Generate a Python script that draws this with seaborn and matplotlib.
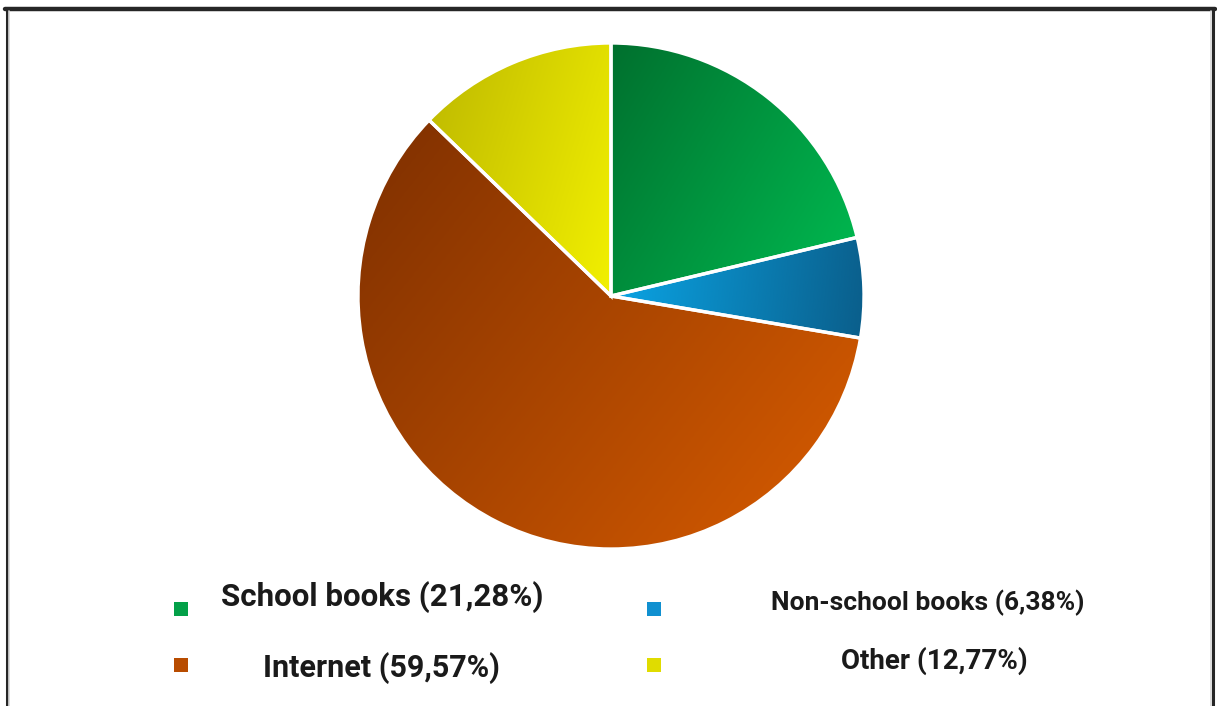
import numpy as np
import matplotlib
matplotlib.use("Agg")
import matplotlib.pyplot as plt
import seaborn as sns
from matplotlib.colors import LinearSegmentedColormap
from matplotlib.patches import Rectangle
from matplotlib.lines import Line2D

sns.set_theme(style="white")
plt.rcParams['font.family'] = ['Roboto', 'DejaVu Sans']

# Sources of information
categories = ["School books", "Non-school books", "Internet", "Other"]
shares = [21.28, 6.38, 59.57, 12.77]
labels = ["School books (21,28%)", "Non-school books (6,38%)",
          "Internet (59,57%)", "Other (12,77%)"]

# gradient end colours for each slice and gradient direction
grad_colors = [("#00702e", "#00b54e"),
               ("#0aa4e4", "#0a5f8c"),
               ("#853300", "#cc5600"),
               ("#c2bd00", "#f2f000")]
grad_dirs = [(1.0, -0.6), (1.0, -0.1), (1.0, -0.8), (1.0, -0.3)]
legend_colors = ["#03a048", "#1090d0", "#b84c00", "#e0dc00"]

W, H = 1217, 706
fig = plt.figure(figsize=(W / 100, H / 100), dpi=100)
fig.patch.set_facecolor("white")

cx, cy, r = 611, 296, 253
ax = fig.add_axes([(cx - r) / W, (H - cy - r) / H, 2 * r / W, 2 * r / H])
wedges, _ = ax.pie(shares, startangle=90, counterclock=False, radius=1.0,
                   colors=[c[1] for c in grad_colors],
                   wedgeprops=dict(edgecolor="white", linewidth=2.4))
ax.set_xlim(-1, 1)
ax.set_ylim(-1, 1)
ax.set_aspect("equal")
ax.axis("off")

# linear gradient fill clipped to each wedge
n = 400
xs = np.linspace(-1, 1, n)
X, Y = np.meshgrid(xs, xs[::-1])
for w, (c0, c1), (dx, dy) in zip(wedges, grad_colors, grad_dirs):
    verts = w.get_path().vertices
    proj_v = verts[:, 0] * dx + verts[:, 1] * dy
    P = X * dx + Y * dy
    T = np.clip((P - proj_v.min()) / (proj_v.max() - proj_v.min()), 0, 1)
    cmap = LinearSegmentedColormap.from_list("g", [c0, c1])
    im = ax.imshow(T, cmap=cmap, extent=[-1, 1, -1, 1], vmin=0, vmax=1,
                   interpolation="bilinear", zorder=w.get_zorder() + 0.1)
    im.set_clip_path(w)
    w.set_facecolor("none")
    w.set_zorder(w.get_zorder() + 0.2)

# legend: square markers and labels
marker_pos = [(181, 609), (654, 609), (181, 665), (654, 665)]
text_pos = [(382, 597, 22.5), (928, 603, 19), (381, 668, 22), (934, 661, 20)]
for (mx, my), col in zip(marker_pos, legend_colors):
    fig.add_artist(Rectangle(((mx - 7) / W, (H - my - 7) / H), 14 / W, 14 / H,
                             transform=fig.transFigure, facecolor=col,
                             edgecolor="none"))
for lab, (tx, ty, fs) in zip(labels, text_pos):
    fig.text(tx / W, (H - ty) / H, lab, ha="center", va="center",
             fontsize=fs, fontweight="bold", color="#1a1a1a")

# frame around the chart
frame = "#262626"
fig.add_artist(Line2D([6.5 / W, 6.5 / W], [0, (H - 8) / H], transform=fig.transFigure,
                      color=frame, linewidth=2.2))
fig.add_artist(Line2D([1213 / W, 1213 / W], [0, (H - 8) / H], transform=fig.transFigure,
                      color=frame, linewidth=2.2))
fig.add_artist(Line2D([5 / W, 1215 / W], [(H - 8.5) / H, (H - 8.5) / H],
                      transform=fig.transFigure, color=frame, linewidth=3.2))
fig.add_artist(Line2D([9 / W, 9 / W], [0, (H - 11) / H], transform=fig.transFigure,
                      color="#d8d8d8", linewidth=1.2))
fig.add_artist(Line2D([1210.5 / W, 1210.5 / W], [0, (H - 11) / H], transform=fig.transFigure,
                      color="#d8d8d8", linewidth=1.2))

fig.savefig("out.png", dpi=100)
